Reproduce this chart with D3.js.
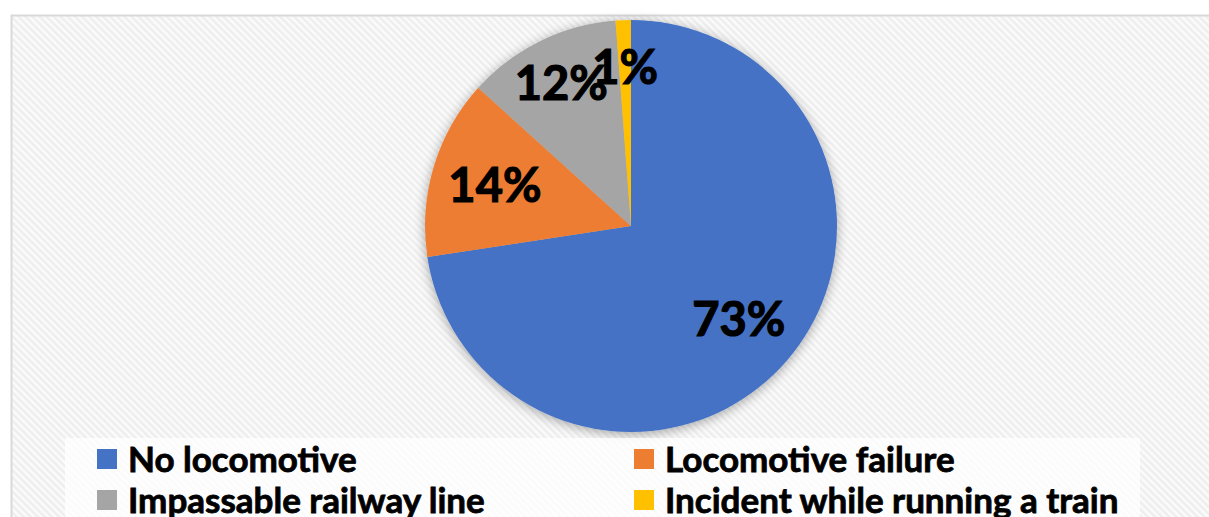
<!DOCTYPE html>
<html>
<head>
<meta charset="utf-8">
<script src="https://cdn.jsdelivr.net/npm/d3@7"></script>
<style>
  html, body { margin: 0; padding: 0; background: #fff; }
  svg { display: block; }
</style>
</head>
<body>
<svg id="chart" width="1209" height="517"></svg>
<script>
// ─── Data ────────────────────────────────────────────────────────────────────
const categories = ['No locomotive', 'Locomotive failure', 'Impassable railway line', 'Incident while running a train'];
const shares     = [72.6, 14.1, 12.1, 1.2];
const colors     = ['#4472c4', '#ed7d31', '#a5a5a5', '#ffc000'];

// ─── Layout ──────────────────────────────────────────────────────────────────
const W = 1209, H = 517;
const theme = { font: 'Lato, "Open Sans", sans-serif', border: '#d9d9d9' };
const cx = 631, cy = 226, R = 206;

const svg = d3.select('#chart');
const defs = svg.append('defs');

// diagonal hatch used for the chart area
const pat = defs.append('pattern')
  .attr('id', 'hatch')
  .attr('patternUnits', 'userSpaceOnUse')
  .attr('width', 5).attr('height', 5)
  .attr('patternTransform', 'rotate(-45)');
pat.append('rect').attr('width', 5).attr('height', 5).attr('fill', '#fbfbfb');
pat.append('rect').attr('width', 2.5).attr('height', 5).attr('fill', '#eeeeee');

// soft shadow around the pie
const shadow = defs.append('filter')
  .attr('id', 'pieShadow')
  .attr('x', '-20%').attr('y', '-20%').attr('width', '140%').attr('height', '140%');
shadow.append('feGaussianBlur').attr('in', 'SourceAlpha').attr('stdDeviation', 6).attr('result', 'blur');
shadow.append('feOffset').attr('in', 'blur').attr('dx', 0).attr('dy', 2).attr('result', 'off');
shadow.append('feComponentTransfer').attr('in', 'off').attr('result', 'shade')
  .append('feFuncA').attr('type', 'linear').attr('slope', 0.35);
const merge = shadow.append('feMerge');
merge.append('feMergeNode').attr('in', 'shade');
merge.append('feMergeNode').attr('in', 'SourceGraphic');

// chart area (border runs off the right and bottom edges)
svg.append('rect')
  .attr('x', 11.5).attr('y', 15.5)
  .attr('width', W + 20).attr('height', H + 20)
  .attr('fill', 'url(#hatch)')
  .attr('stroke', theme.border)
  .attr('stroke-width', 2);

// ─── Pie ─────────────────────────────────────────────────────────────────────
const pie = d3.pie().sort(null).value(d => d.value);
const arcs = pie(shares.map((v, i) => ({ name: categories[i], value: v, color: colors[i] })));
const total = d3.sum(shares);

const arc = d3.arc().innerRadius(0).outerRadius(R);

const gPie = svg.append('g').attr('transform', `translate(${cx},${cy})`);

gPie.append('g')
  .attr('filter', 'url(#pieShadow)')
  .selectAll('path')
  .data(arcs)
  .join('path')
  .attr('d', arc)
  .attr('fill', d => d.data.color);

// small slices get their labels pushed outward, like Excel's best fit
const labelArc = d => {
  const share = d.data.value / total;
  const r = share > 0.13 ? R * 0.69 : R * 0.77;
  return d3.arc().innerRadius(r).outerRadius(r).centroid(d);
};

gPie.selectAll('.pie-label')
  .data(arcs)
  .join('text')
  .attr('class', 'pie-label')
  .attr('transform', d => `translate(${labelArc(d)})`)
  .attr('text-anchor', 'middle')
  .attr('dy', '0.36em')
  .attr('fill', '#000')
  .attr('stroke', '#000')
  .attr('stroke-width', 1.2)
  .style('font-family', theme.font)
  .style('font-weight', 700)
  .style('font-size', '47px')
  .text(d => `${Math.round(d.data.value / total * 100)}%`);

// ─── Legend ──────────────────────────────────────────────────────────────────
svg.append('rect')
  .attr('x', 65).attr('y', 438)
  .attr('width', 1075).attr('height', 90)
  .attr('fill', '#fff')
  .attr('fill-opacity', 0.75);

const colX = [97, 634];
const rowY = [459, 500];

const items = svg.append('g').selectAll('g')
  .data(categories.map((c, i) => ({ name: c, color: colors[i], col: i % 2, row: Math.floor(i / 2) })))
  .join('g')
  .attr('transform', d => `translate(${colX[d.col]},${rowY[d.row]})`);

items.append('rect')
  .attr('x', 0).attr('y', -10)
  .attr('width', 20).attr('height', 20)
  .attr('fill', d => d.color);

items.append('text')
  .attr('x', 31)
  .attr('dy', '0.36em')
  .attr('fill', '#000')
  .attr('stroke', '#000')
  .attr('stroke-width', 0.8)
  .style('font-family', theme.font)
  .style('font-weight', 700)
  .style('font-size', '35px')
  .text(d => d.name);
</script>
</body>
</html>
